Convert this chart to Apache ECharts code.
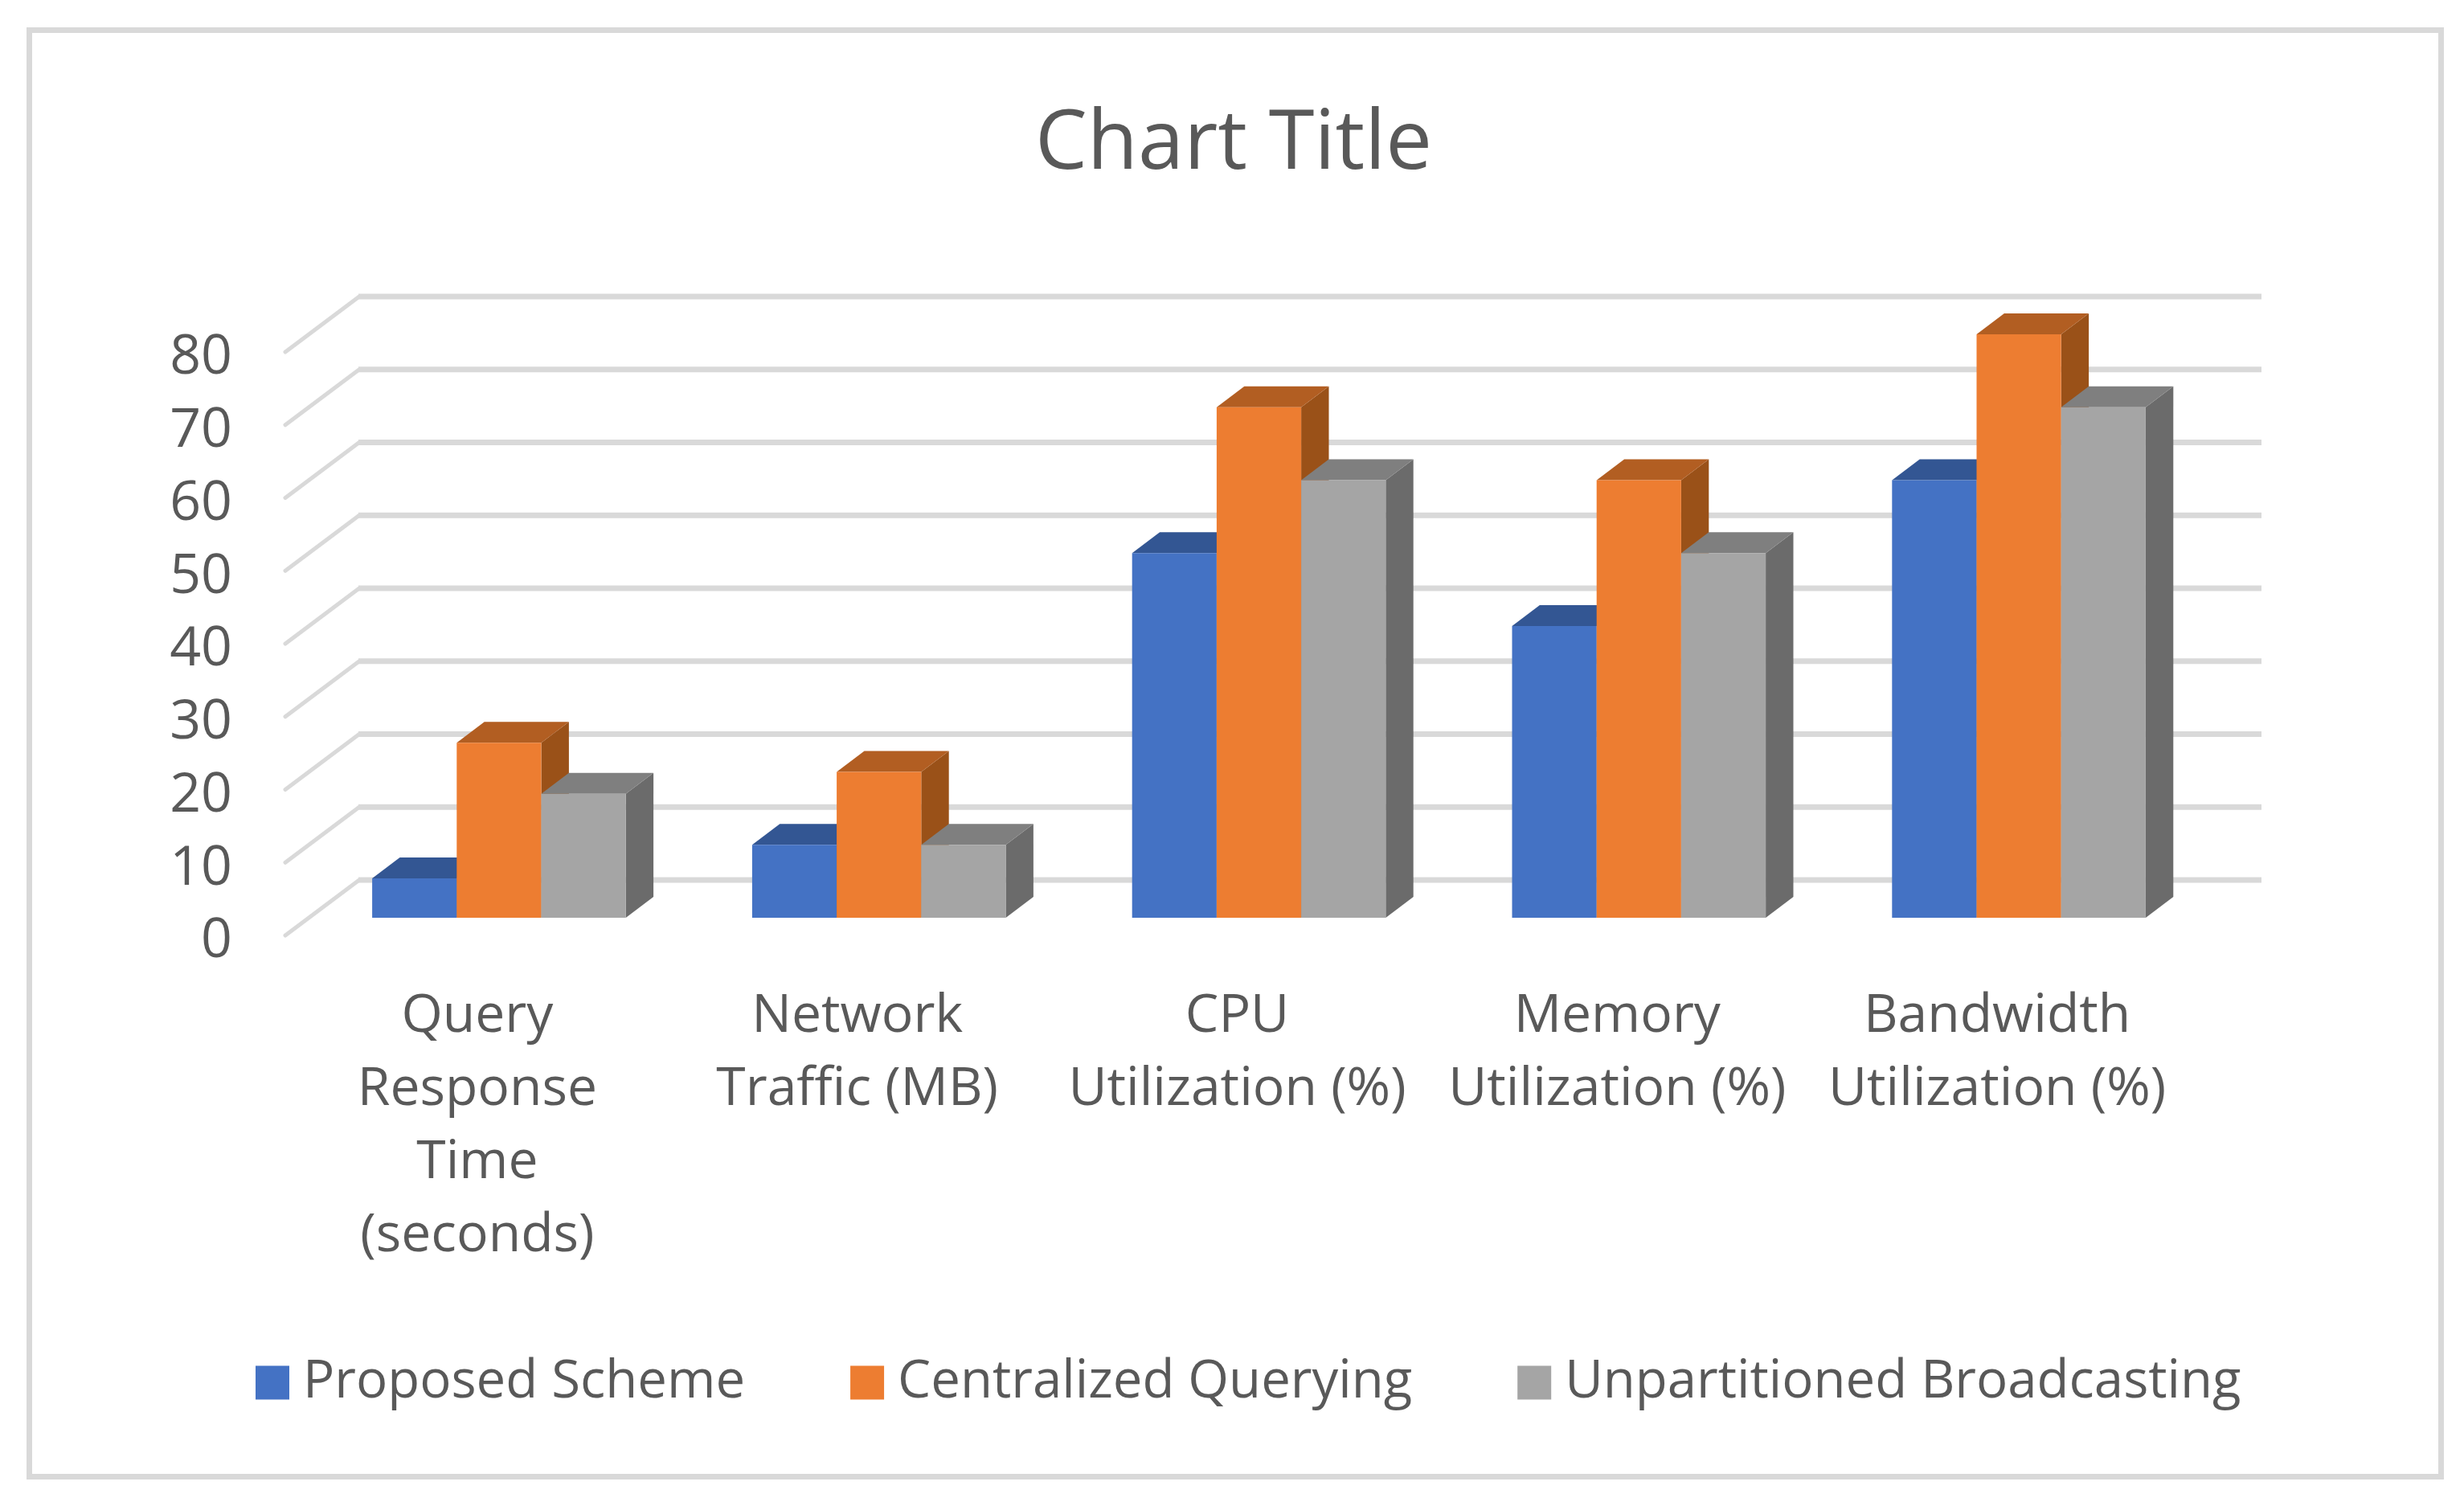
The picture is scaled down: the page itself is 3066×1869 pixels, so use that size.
<!DOCTYPE html>
<html>
<head>
<meta charset="utf-8">
<style>html,body{margin:0;padding:0;background:#fff}#c{width:3066px;height:1869px}</style>
<script src="https://cdn.jsdelivr.net/npm/echarts@6/dist/echarts.min.js"></script>
</head>
<body>
<div id="c"></div>
<script>
const categories = ['Query\nResponse\nTime\n(seconds)', 'Network\nTraffic (MB)', 'CPU\nUtilization (%)', 'Memory\nUtilization (%)', 'Bandwidth\nUtilization (%)'];
const proposedScheme = [5.4, 10, 50, 40, 60];
const centralizedQuerying = [24, 20, 70, 60, 80];
const unpartitionedBroadcasting = [17, 10, 60, 50, 70];
const yTicks = [0, 10, 20, 30, 40, 50, 60, 70, 80];

const FONT = '"Open Sans", sans-serif';
const TEXT = '#595959';
const GRID = '#d9d9d9';
// Projection of the chart's depth axis on screen
const WALL_DX = 92, WALL_DY = 69;       // front floor edge -> back wall
const FRONT_DX = 29.5, FRONT_DY = 22;   // front floor edge -> bar front face
const BAR_DX = 34.4, BAR_DY = 26;       // bar depth
const BAR_SHARE = 0.2225;               // bar width / category width

function gridItem(params, api) {
  const p = api.coord([0, api.value(0)]);
  const cs = params.coordSys;
  const x0 = cs.x, y = p[1];
  const bx = x0 + WALL_DX, by = y - WALL_DY;
  return {
    type: 'group',
    children: [
      { type: 'line', shape: { x1: x0, y1: y, x2: bx, y2: by },
        style: { stroke: GRID, lineWidth: 5, lineCap: 'round' } },
      { type: 'line', shape: { x1: bx - 1, y1: by, x2: x0 + cs.width + WALL_DX + 3, y2: by },
        style: { stroke: GRID, lineWidth: 7 } }
    ]
  };
}

function barRenderer(offset, front, top, side) {
  return function (params, api) {
    const cat = api.value(0), v = api.value(1);
    const c0 = api.coord([cat, 0]);
    const c1 = api.coord([cat, v]);
    const w = api.size([1, 0])[0] * BAR_SHARE;
    const xl = c0[0] + FRONT_DX + offset * w - w / 2;
    const xr = xl + w;
    const yb = c0[1] - FRONT_DY;
    const yt = c1[1] - FRONT_DY;
    return {
      type: 'group',
      children: [
        { type: 'polygon', shape: { points: [[xr, yt], [xr + BAR_DX, yt - BAR_DY], [xr + BAR_DX, yb - BAR_DY], [xr, yb]] }, style: { fill: side } },
        { type: 'polygon', shape: { points: [[xl, yt], [xl + BAR_DX, yt - BAR_DY], [xr + BAR_DX, yt - BAR_DY], [xr, yt]] }, style: { fill: top } },
        { type: 'rect', shape: { x: xl, y: yt, width: w, height: yb - yt }, style: { fill: front } }
      ]
    };
  };
}

function barSeries(name, values, offset, front, top, side) {
  return {
    type: 'custom', name, clip: false, z: 3,
    itemStyle: { color: front },
    encode: { x: 0, y: 1 },
    renderItem: barRenderer(offset, front, top, side),
    data: values.map((v, i) => [i, v])
  };
}

const chart = echarts.init(document.getElementById('c'), null, { renderer: 'canvas' });
chart.setOption({
  animation: false,
  backgroundColor: '#fff',
  title: {
    text: 'Chart Title', left: 1530, top: 176, textAlign: 'center', textVerticalAlign: 'middle',
    textStyle: { fontFamily: FONT, fontSize: 103, fontWeight: 'normal', color: TEXT }
  },
  legend: {
    left: 313, top: 1683, itemWidth: 42, itemHeight: 42, itemGap: 131,
    icon: 'rect',
    data: ['Proposed Scheme', 'Centralized Querying', 'Unpartitioned Broadcasting'],
    textStyle: { fontFamily: FONT, fontSize: 65.3, color: TEXT, padding: [0, 0, 0, 12] }
  },
  graphic: [{
    type: 'rect', silent: true, z: -1,
    shape: { x: 36.5, y: 37.5, width: 3001, height: 1800 },
    style: { fill: '#fff', stroke: GRID, lineWidth: 7 }
  }],
  grid: { left: 355, width: 2364, top: 438, height: 726 },
  xAxis: {
    type: 'category', data: categories,
    axisLine: { show: false }, axisTick: { show: false }, splitLine: { show: false },
    axisLabel: { fontFamily: FONT, fontSize: 66, color: TEXT, lineHeight: 91, margin: 56, interval: 0, padding: [0, 0, 0, 5] }
  },
  yAxis: {
    type: 'value', min: 0, max: 80, interval: 10,
    axisLine: { show: false }, axisTick: { show: false }, splitLine: { show: false },
    axisLabel: { fontFamily: FONT, fontSize: 68, color: TEXT, margin: 66, verticalAlign: 'top', lineHeight: 16 }
  },
  series: [
    { type: 'custom', name: 'gridlines', silent: true, clip: false, z: 1,
      renderItem: gridItem, data: yTicks.map(t => [t]), encode: { y: 0 } },
    barSeries('Proposed Scheme', proposedScheme, -1, '#4472c4', '#335693', '#2c4a7e'),
    barSeries('Centralized Querying', centralizedQuerying, 0, '#ed7d31', '#b25e22', '#9a5118'),
    barSeries('Unpartitioned Broadcasting', unpartitionedBroadcasting, 1, '#a5a5a5', '#7f7f7f', '#6b6b6b')
  ]
});
</script>
</body>
</html>
